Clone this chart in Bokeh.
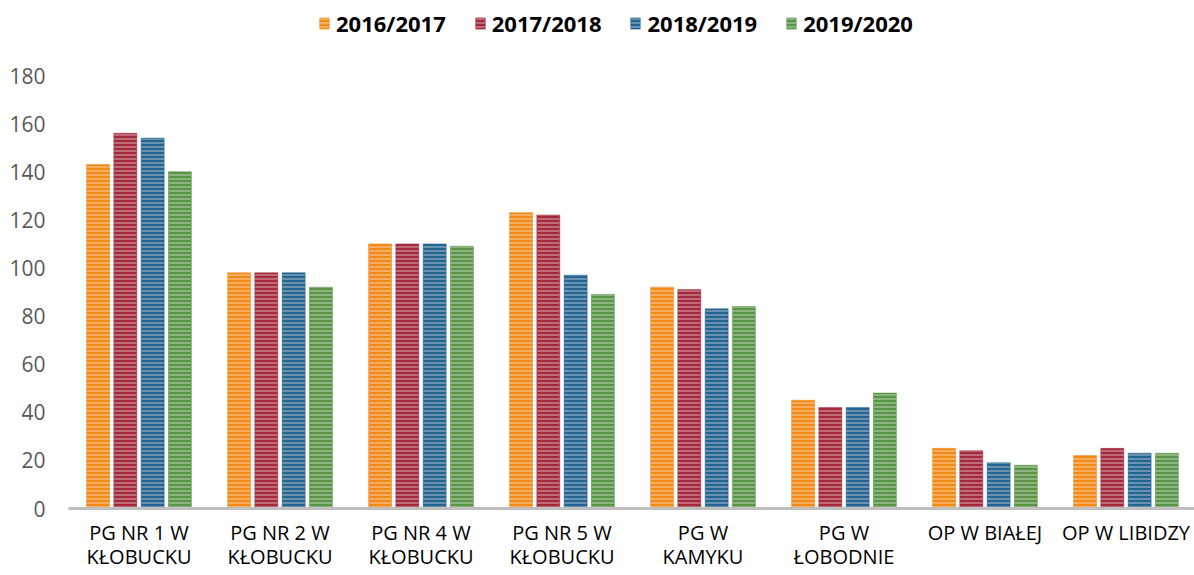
import numpy as np
from bokeh.plotting import figure
from bokeh.models import ColumnDataSource, Range1d, FixedTicker, Legend, LegendItem
from bokeh.transform import dodge
from bokeh.embed import file_html
from bokeh.resources import INLINE

categories = ["PG NR 1 W\nKŁOBUCKU", "PG NR 2 W\nKŁOBUCKU", "PG NR 4 W\nKŁOBUCKU",
              "PG NR 5 W\nKŁOBUCKU", "PG W\nKAMYKU", "PG W\nŁOBODNIE",
              "OP W BIAŁEJ", "OP W LIBIDZY"]
series_names = ["2016/2017", "2017/2018", "2018/2019", "2019/2020"]
v2016 = [143, 98, 110, 123, 92, 45, 25, 22]
v2017 = [156, 98, 110, 122, 91, 42, 24, 25]
v2018 = [154, 98, 110, 97, 83, 42, 19, 23]
v2019 = [140, 92, 109, 89, 84, 48, 18, 23]
y_ticks = [0, 20, 40, 60, 80, 100, 120, 140, 160, 180]

colors = ["#F28A1A", "#A32A3C", "#24648F", "#5A9448"]
offsets = [-0.29, -0.097, 0.097, 0.29]

xpos = np.arange(len(categories)) + 0.5
src = ColumnDataSource(dict(x=xpos, a=v2016, b=v2017, c=v2018, d=v2019))

# frame spans the full height above the axis; the top band holds the legend
p = figure(width=1194, height=575, output_backend="svg", toolbar_location=None,
           x_range=Range1d(0, 7.986), y_range=Range1d(0, 211.2),
           min_border_left=68, min_border_right=0, min_border_top=0, min_border_bottom=67)
p.outline_line_color = None
p.grid.grid_line_color = None
p.background_fill_color = "white"
p.border_fill_color = "white"

items = []
for col, name, c, off in zip(["a", "b", "c", "d"], series_names, colors, offsets):
    r = p.vbar(x=dodge("x", off), top=col, width=0.163, bottom=0, source=src,
               fill_color=c, line_color=c, line_alpha=0.5, line_width=1,
               hatch_pattern="horizontal_line", hatch_color="white",
               hatch_alpha=0.4, hatch_scale=4, hatch_weight=1.5)
    items.append(LegendItem(label=name, renderers=[r]))

legend = Legend(items=items, orientation="horizontal", location=(250, 470),
                label_text_font="Open Sans", label_text_font_style="bold",
                label_text_font_size="22px", label_text_color="#000000",
                glyph_width=12, glyph_height=14, label_standoff=6, spacing=28,
                padding=0, margin=0, border_line_color=None,
                background_fill_alpha=0)
p.add_layout(legend, "center")

p.yaxis.ticker = FixedTicker(ticks=y_ticks)
p.yaxis.axis_line_color = None
p.yaxis.major_tick_line_color = None
p.yaxis.minor_tick_line_color = None
p.yaxis.major_tick_out = 0
p.yaxis.major_tick_in = 0
p.yaxis.major_label_text_font = "Open Sans"
p.yaxis.major_label_text_font_size = "21px"
p.yaxis.major_label_text_color = "#595959"
p.yaxis.major_label_standoff = 23

p.xaxis.ticker = FixedTicker(ticks=list(xpos))
p.xaxis.major_label_overrides = {float(x): c for x, c in zip(xpos, categories)}
p.xaxis.axis_line_color = "#BFBFBF"
p.xaxis.axis_line_width = 3
p.xaxis.major_tick_line_color = None
p.xaxis.minor_tick_line_color = None
p.xaxis.major_tick_out = 0
p.xaxis.major_tick_in = 0
p.xaxis.minor_tick_out = 0
p.xaxis.major_label_text_font = "Open Sans"
p.xaxis.major_label_text_font_size = "20px"
p.xaxis.major_label_text_line_height = 0.9
p.xaxis.major_label_text_color = "#000000"
p.xaxis.major_label_standoff = 10

open("out.html", "w").write(file_html(p, INLINE))
